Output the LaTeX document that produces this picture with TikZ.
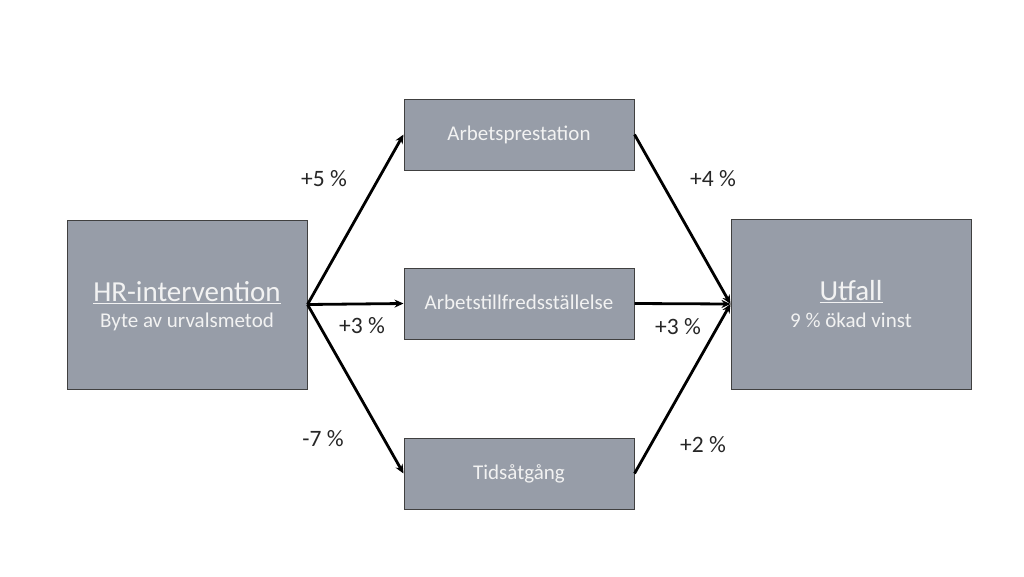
\documentclass[tikz,border=0pt]{standalone}
\usepackage{fontspec}
\setmainfont{Carlito}
\usetikzlibrary{arrows.meta}
\definecolor{boxgra}{HTML}{979DA8}
\definecolor{kant}{HTML}{404040}
\definecolor{ljus}{HTML}{F2F2F2}
\definecolor{text}{HTML}{262626}
\begin{document}
\begin{tikzpicture}[x=1pt, y=-1pt,
  box/.style={draw=kant, line width=1pt, fill=boxgra, text=ljus, align=center, inner sep=0pt},
  pil/.style={line width=2.8pt, -{Stealth[length=9pt, width=8pt]}},
  procent/.style={text=text, font=\fontsize{23.5}{27}\selectfont}]
  \useasboundingbox (0,0) rectangle (1024,576);

  % Intervention
  \node[box, minimum width=240pt, minimum height=169pt, text depth=0pt] (hr) at (187,304.5)
    {\fontsize{29}{33}\selectfont\underline{HR-intervention}\\[9pt]
     \fontsize{21}{25}\selectfont Byte av urvalsmetod};

  % Mellanled
  \foreach \namn/\y/\txt in {prest/134.5/Arbetsprestation, tillf/303.5/Arbetstillfredsställelse, tid/473.5/Tidsåtgång}
    \node[box, minimum width=230pt, minimum height=71pt, text depth=2pt, font=\fontsize{21}{25}\selectfont] (\namn) at (519,\y) {\txt};

  % Utfall
  \node[box, minimum width=240pt, minimum height=170pt, text depth=0pt] (utfall) at (851,304)
    {\fontsize{29}{33}\selectfont\underline{Utfall}\\[9pt]
     \fontsize{21}{25}\selectfont 9 \% ökad vinst};

  % Pilar
  \foreach \m in {prest,tillf,tid} {
    \draw[pil] (hr.east) -- (\m.west);
    \draw[pil] (\m.east) -- (utfall.west);
  }

  % Procentsatser
  \node[procent] (p1) at (324,179) {+5 \%};
  \node[procent] (p2) at (362,326) {+3 \%};
  \node[procent] (p3) at (323,439) {-7 \%};
  \node[procent] (p4) at (713,179) {+4 \%};
  \node[procent] (p5) at (678,327) {+3 \%};
  \node[procent] (p6) at (703,445) {+2 \%};

\end{tikzpicture}
\end{document}
